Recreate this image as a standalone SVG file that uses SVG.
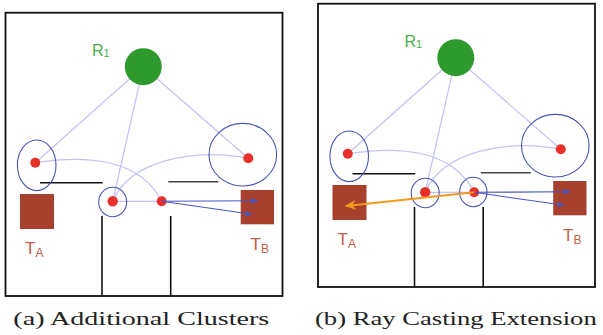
<svg xmlns="http://www.w3.org/2000/svg" width="603" height="335" viewBox="0 0 603 335">
<defs>
<marker id="ab" viewBox="0 0 10 10" refX="9" refY="5" markerWidth="7" markerHeight="7" markerUnits="userSpaceOnUse" orient="auto"><path d="M0,1 L10,5 L0,9 Z" fill="#4a55c0"/></marker>
<marker id="ao" viewBox="0 0 10 10" refX="9" refY="5" markerWidth="11" markerHeight="11" markerUnits="userSpaceOnUse" orient="auto"><path d="M10,5 L0,0.5 L3,5 L0,9.5 Z" fill="#f39a1e"/></marker>
</defs>
<style>
.frame{fill:none;stroke:#111;stroke-width:1.8}
.wall{stroke:#111;stroke-width:1.6;fill:none}
.wallg{stroke:#444;stroke-width:1.6;fill:none}
.edge{stroke:#c4c4f2;stroke-width:1.3;fill:none}
.clu{fill:none;stroke:#4a55b5;stroke-width:1.1}
.dot{fill:#e8302a}
.robot{fill:#2e9a2e}
.tgt{fill:#a8402e}
.ray{stroke:#4a55c0;stroke-width:1.1;fill:none;marker-end:url(#ab)}
.orange{stroke:#f39a1e;stroke-width:2;fill:none;marker-end:url(#ao)}
.lbl{font-family:"Liberation Sans",Arial,sans-serif}
.rl{fill:#4cae4c;font-size:16px}
.tl{fill:#c0604a;font-size:17px}
.cap{font-family:"Liberation Serif","Times New Roman",serif;font-size:19px;fill:#222}
</style>

<!-- Panel (a) -->
<g id="panel-a">
<rect class="frame" x="5.5" y="12.7" width="277" height="283.3"/>
<g id="walls-a">
<line class="wall" x1="40" y1="182.7" x2="102.7" y2="182.7"/>
<line class="wallg" x1="168.3" y1="181.7" x2="218.3" y2="181.7"/>
<line class="wall" x1="102" y1="216" x2="102" y2="296"/>
<line class="wall" x1="170.7" y1="216" x2="170.7" y2="296"/>
</g>
<g id="edges-a">
<line class="edge" x1="143.3" y1="66.7" x2="35.3" y2="162.7"/>
<line class="edge" x1="143.3" y1="66.7" x2="248.3" y2="158.3"/>
<line class="edge" x1="143.3" y1="66.7" x2="112.7" y2="201.3"/>
<path class="edge" d="M35.3,162.7 C85,155 140,158 161.7,201.3"/>
<path class="edge" d="M112.7,201.3 C130,160 195,148 248.3,158.3"/>
<line class="edge" x1="112.7" y1="201.3" x2="161.7" y2="201.3"/>
</g>
<g id="R1-a"><circle class="robot" cx="143.3" cy="66.7" r="18.5"/><text class="lbl rl" x="92" y="56">R<tspan font-size="11" dy="1">1</tspan></text></g>
<g id="C1-a"><ellipse class="clu" cx="36.7" cy="165.3" rx="19.3" ry="25.3"/><circle class="dot" cx="35.3" cy="162.7" r="5"/></g>
<g id="C2-a"><ellipse class="clu" cx="242.8" cy="154.7" rx="33.8" ry="31.3"/><circle class="dot" cx="248.3" cy="158.3" r="5"/></g>
<g id="C3-a"><ellipse class="clu" cx="112.7" cy="202" rx="14" ry="14.7"/><circle class="dot" cx="112.7" cy="201.3" r="5.2"/></g>
<g id="P-a"><circle class="dot" cx="161.7" cy="201.3" r="5"/></g>
<g id="TA-a"><rect class="tgt" x="20" y="194" width="34" height="35"/><text class="lbl tl" x="25" y="254">T<tspan font-size="12" dy="3">A</tspan></text></g>
<g id="TB-a"><rect class="tgt" x="240.7" y="190" width="33.3" height="34.3"/><text class="lbl tl" x="250.5" y="250">T<tspan font-size="12" dy="3">B</tspan></text></g>
<g id="rays-a">
<line class="ray" x1="161.7" y1="201.3" x2="257.3" y2="200.7"/>
<line class="ray" x1="161.7" y1="201.3" x2="251.7" y2="214.3"/>
</g>
<text class="cap" x="13.3" y="325" textLength="256" lengthAdjust="spacingAndGlyphs">(a) Additional Clusters</text>
</g>

<!-- Panel (b) -->
<g id="panel-b">
<rect class="frame" x="318" y="3.7" width="277" height="283.3"/>
<g id="walls-b">
<line class="wall" x1="352.5" y1="173.7" x2="415.2" y2="173.7"/>
<line class="wallg" x1="480.8" y1="172.7" x2="530.8" y2="172.7"/>
<line class="wall" x1="414.5" y1="207" x2="414.5" y2="287"/>
<line class="wall" x1="483.2" y1="207" x2="483.2" y2="287"/>
</g>
<g id="edges-b">
<line class="edge" x1="455.8" y1="57.7" x2="347.8" y2="153.7"/>
<line class="edge" x1="455.8" y1="57.7" x2="560.8" y2="149.3"/>
<line class="edge" x1="455.8" y1="57.7" x2="425.2" y2="192.3"/>
<path class="edge" d="M347.8,153.7 C397.5,146 452.5,149 474.2,192.3"/>
<path class="edge" d="M425.2,192.3 C442.5,151 507.5,139 560.8,149.3"/>
<line class="edge" x1="425.2" y1="192.3" x2="474.2" y2="192.3"/>
</g>
<g id="R1-b"><circle class="robot" cx="455.8" cy="57.7" r="18.5"/><text class="lbl rl" x="404.5" y="47">R<tspan font-size="11" dy="1">1</tspan></text></g>
<g id="C1-b"><ellipse class="clu" cx="349.2" cy="156.3" rx="19.3" ry="25.3"/><circle class="dot" cx="347.8" cy="153.7" r="5"/></g>
<g id="C2-b"><ellipse class="clu" cx="555.3" cy="145.7" rx="33.8" ry="31.3"/><circle class="dot" cx="560.8" cy="149.3" r="5"/></g>
<g id="C3-b"><ellipse class="clu" cx="425.2" cy="193" rx="14" ry="14.7"/><circle class="dot" cx="425.2" cy="192.3" r="5.2"/></g>
<g id="C4-b"><ellipse class="clu" cx="473.3" cy="192" rx="13.7" ry="14.7"/><circle class="dot" cx="474.2" cy="192.3" r="5"/></g>
<g id="TA-b"><rect class="tgt" x="332.5" y="185" width="34" height="35"/><text class="lbl tl" x="337.5" y="245">T<tspan font-size="12" dy="3">A</tspan></text></g>
<g id="TB-b"><rect class="tgt" x="553.2" y="181" width="33.3" height="34.3"/><text class="lbl tl" x="563" y="241">T<tspan font-size="12" dy="3">B</tspan></text></g>
<g id="rays-b">
<line class="ray" x1="474.2" y1="192.3" x2="569.8" y2="191.7"/>
<line class="ray" x1="474.2" y1="192.3" x2="564.2" y2="205.3"/>
<line class="orange" x1="474.2" y1="192.3" x2="346" y2="206"/>
</g>
<text class="cap" x="315" y="325" textLength="281.7" lengthAdjust="spacingAndGlyphs">(b) Ray Casting Extension</text>
</g>
</svg>
